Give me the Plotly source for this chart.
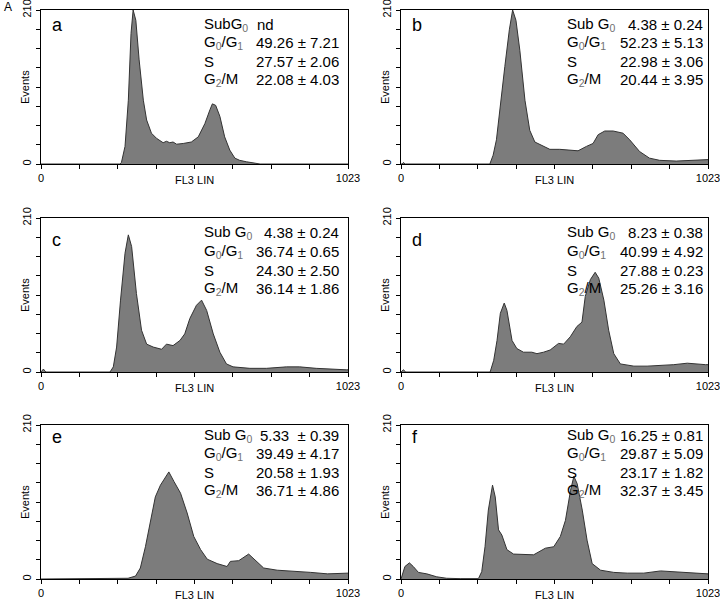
import plotly.graph_objects as go

W, H = 720, 600

ch_a = [0, 263, 268, 280, 291, 300, 307, 316, 327, 341, 352, 368, 385, 407, 418, 429, 440, 452, 474, 501, 524, 546, 563, 571, 582, 596, 612, 629, 646, 662, 685, 712, 730, 1023]
ev_a = [0, 0, 2, 24, 87, 178, 210, 196, 142, 87, 60, 42, 35, 29, 31, 29, 30, 27, 28, 30, 37, 55, 74, 82, 80, 65, 37, 19, 8, 5, 3, 1, 0, 0]

ch_b = [0, 4, 8, 14, 296, 307, 318, 329, 346, 361, 372, 383, 396, 413, 429, 446, 468, 496, 529, 563, 590, 618, 640, 657, 679, 707, 740, 762, 795, 828, 862, 917, 973, 1017, 1023]
ev_b = [0, 0, 2, 0, 0, 12, 33, 74, 133, 183, 210, 196, 155, 87, 46, 30, 26, 20, 20, 19, 18, 24, 28, 40, 45, 45, 42, 33, 17, 8, 5, 4, 5, 6, 6]

ch_c = [0, 4, 8, 16, 230, 241, 252, 265, 280, 291, 302, 318, 335, 352, 374, 402, 418, 440, 463, 479, 496, 518, 535, 552, 574, 596, 618, 640, 696, 751, 818, 862, 917, 1017, 1023]
ev_c = [0, 2, 4, 0, 0, 7, 34, 98, 162, 187, 171, 107, 57, 38, 34, 31, 38, 36, 43, 52, 73, 91, 98, 84, 52, 27, 11, 7, 5, 5, 7, 7, 5, 3, 3]

ch_d = [0, 4, 8, 16, 297, 309, 320, 331, 344, 353, 370, 386, 408, 436, 453, 475, 497, 525, 542, 564, 586, 603, 614, 631, 647, 659, 676, 692, 709, 731, 776, 820, 865, 909, 954, 976, 1015, 1023]
ev_d = [0, 2, 3, 0, 0, 16, 43, 80, 94, 84, 43, 32, 27, 27, 25, 27, 30, 39, 38, 48, 62, 68, 103, 126, 136, 128, 98, 57, 25, 11, 8, 8, 9, 10, 12, 11, 10, 10]

ch_e = [0, 264, 290, 315, 331, 348, 365, 381, 398, 415, 426, 443, 465, 487, 509, 532, 554, 587, 620, 631, 659, 692, 720, 742, 787, 843, 899, 955, 1016, 1023]
ev_e = [0, 0, 1, 4, 15, 44, 80, 112, 128, 140, 146, 133, 117, 90, 58, 40, 27, 21, 17, 24, 25, 34, 24, 15, 12, 11, 9, 7, 7, 8]

ch_f = [0, 2, 13, 28, 41, 58, 86, 119, 152, 197, 258, 269, 280, 291, 305, 314, 325, 336, 353, 375, 409, 442, 481, 509, 531, 548, 565, 576, 587, 604, 620, 637, 665, 709, 754, 809, 865, 909, 954, 1021, 1023]
ev_f = [0, 3, 17, 22, 17, 9, 7, 3, 1, 0.5, 0.5, 10, 44, 94, 128, 112, 67, 60, 40, 34, 33, 33, 42, 44, 58, 80, 121, 140, 130, 94, 53, 21, 12, 9, 8, 8, 11, 10, 8, 7, 7]

letras = ['a', 'b', 'c', 'd', 'e', 'f']

# Rótulos das fases do ciclo celular (subscritos em cinza, como no original)
def sub(t):
    return '<sub><span style="color:#707070">' + t + '</span></sub>'


fases_a = ['SubG' + sub('0'), 'G' + sub('0') + '/G' + sub('1'), 'S', 'G' + sub('2') + '/M']
fases = ['Sub G' + sub('0'), 'G' + sub('0') + '/G' + sub('1'), 'S', 'G' + sub('2') + '/M']

val_a = ['nd', '49.26 ± 7.21', '27.57 ± 2.06', '22.08 ± 4.03']
val_b = ['4.38 ± 0.24', '52.23 ± 5.13', '22.98 ± 3.06', '20.44 ± 3.95']
val_c = ['4.38 ± 0.24', '36.74 ± 0.65', '24.30 ± 2.50', '36.14 ± 1.86']
val_d = ['8.23 ± 0.38', '40.99 ± 4.92', '27.88 ± 0.23', '25.26 ± 3.16']
val_e = ['5.33  ± 0.39', '39.49 ± 4.17', '20.58 ± 1.93', '36.71 ± 4.86']
val_f = ['16.25 ± 0.81', '29.87 ± 5.09', '23.17 ± 1.82', '32.37 ± 3.45']

dados = [(ch_a, ev_a, fases_a, val_a), (ch_b, ev_b, fases, val_b),
         (ch_c, ev_c, fases, val_c), (ch_d, ev_d, fases, val_d),
         (ch_e, ev_e, fases, val_e), (ch_f, ev_f, fases, val_f)]

FONTE = 'Liberation Sans, Arial, sans-serif'

# Geometria dos painéis em pixels: (esquerda, direita) e (topo, base)
cols = [(41, 348), (401, 708)]
rows = [(10, 164), (218, 372), (425, 579)]
linhas_txt = [[24, 43, 61, 80], [233, 252, 270, 288], [435, 453, 472, 490]]
letra_y = [25, 240, 437]


def px_x(x):
    return x / W


def px_y(y):
    return 1 - y / H


fig = go.Figure()
annotations = []
layout = {}

for i, (ch, ev, rot, val) in enumerate(dados):
    r, c = divmod(i, 2)
    x0, x1 = cols[c]
    y0, y1 = rows[r]
    n = '' if i == 0 else str(i + 1)

    fig.add_trace(go.Scatter(
        x=ch, y=ev, mode='lines', fill='tozeroy',
        fillcolor='#7c7c7c', line={'color': '#333333', 'width': 1},
        xaxis='x' + n, yaxis='y' + n, showlegend=False, hoverinfo='skip'
    ))

    layout['xaxis' + n] = dict(
        domain=[px_x(x0), px_x(x1)], anchor='y' + n, range=[0, 1023],
        showline=True, mirror=True, linecolor='black', linewidth=1.3,
        showgrid=False, zeroline=False, automargin=False,
        ticks='outside', ticklen=4, tickcolor='black',
        ticklabeloverflow='allow',
        tickvals=[k * 1023 / 8 for k in range(9)],
        ticktext=['0'] + [''] * 7 + ['1023'],
        tickfont={'size': 11, 'family': FONTE, 'color': 'black'},
    )
    layout['yaxis' + n] = dict(
        domain=[px_y(y1), px_y(y0)], anchor='x' + n, range=[0, 210],
        showline=True, mirror=True, linecolor='black', linewidth=1.3,
        showgrid=False, zeroline=False, automargin=False,
        ticks='outside', ticklen=4, tickcolor='black',
        ticklabeloverflow='allow',
        tickvals=[k * 210 / 8 for k in range(9)],
        ticktext=['0'] + [''] * 7 + ['210'],
        tickangle=-90,
        tickfont={'size': 11, 'family': FONTE, 'color': 'black'},
    )

    # Títulos dos eixos (âncoras explícitas, senão o 'auto' muda conforme a posição)
    annotations.append(dict(x=px_x(x0 - 16), y=px_y((y0 + y1) / 2), xref='paper', yref='paper',
                            text='Events', textangle=-90, showarrow=False,
                            xanchor='center', yanchor='middle',
                            font={'size': 11, 'family': FONTE, 'color': 'black'}))
    annotations.append(dict(x=px_x((x0 + x1) / 2), y=px_y(y1 + 16), xref='paper', yref='paper',
                            text='FL3 LIN', showarrow=False,
                            xanchor='center', yanchor='middle',
                            font={'size': 11, 'family': FONTE, 'color': 'black'}))

    # Letra do painel
    annotations.append(dict(x=px_x(x0 + 9), y=px_y(letra_y[r]), xref='paper', yref='paper',
                            text=letras[i], showarrow=False, xanchor='left', yanchor='middle',
                            font={'size': 18, 'family': FONTE, 'color': 'black'}))

    # Tabela de fases
    lx = x0 + 161 if c == 0 else x0 + 164
    vx = x1 - 7 if c == 0 else x1 - 3
    for k in range(4):
        yk = px_y(linhas_txt[r][k])
        annotations.append(dict(x=px_x(lx), y=yk, xref='paper', yref='paper',
                                text=rot[k], showarrow=False, xanchor='left', yanchor='middle',
                                font={'size': 15, 'family': FONTE, 'color': 'black'}))
        if val[k] == 'nd':
            annotations.append(dict(x=px_x(x0 + 214), y=yk, xref='paper', yref='paper',
                                    text=val[k], showarrow=False, xanchor='left', yanchor='middle',
                                    font={'size': 15, 'family': FONTE, 'color': 'black'}))
        else:
            annotations.append(dict(x=px_x(vx), y=yk, xref='paper', yref='paper',
                                    text=val[k], showarrow=False, xanchor='right', yanchor='middle',
                                    font={'size': 15, 'family': FONTE, 'color': 'black'}))

annotations.append(dict(x=px_x(2), y=px_y(7), xref='paper', yref='paper', text='A',
                        showarrow=False, xanchor='left', yanchor='middle',
                        font={'size': 12, 'family': FONTE, 'color': 'black'}))

fig.update_layout(
    width=W, height=H,
    margin={'l': 0, 'r': 0, 't': 0, 'b': 0, 'autoexpand': False},
    plot_bgcolor='white', paper_bgcolor='white',
    annotations=annotations,
    **layout
)

# Remove a margem padrão do <body> para a figura ocupar a janela inteira
fig.write_html("out.html", config={'displayModeBar': False},
               post_script="document.body.style.margin='0px';")
